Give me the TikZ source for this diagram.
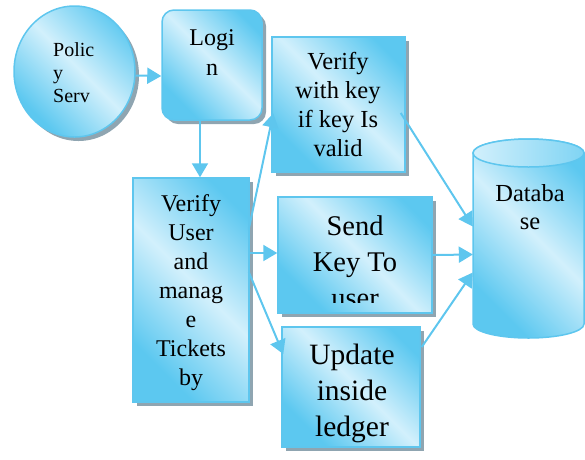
\documentclass[tikz,border=0pt]{standalone}
\usepackage{fontspec}
\newfontfamily\tms{LiberationSerif-Regular.ttf}
\usetikzlibrary{shadows,arrows.meta,calc,shapes.geometric}
\definecolor{bD}{HTML}{5CC8F0}
\definecolor{bL}{HTML}{D2F0FC}
\definecolor{bB}{HTML}{5EC6EE}
\definecolor{sh}{HTML}{8FA5B1}
\pgfdeclarehorizontalshading{diag}{100bp}{color(0bp)=(bD); color(27bp)=(bD); color(52bp)=(bL); color(77bp)=(bD); color(100bp)=(bD)}
\begin{document}
\begin{tikzpicture}[x=1pt,y=-1pt,
 box/.style={draw=bB, line width=1.5pt, shading=diag, shading angle=45,
   drop shadow={shadow xshift=4pt, shadow yshift=-4pt, fill=sh, opacity=1}, inner sep=0pt},
 txt/.style={align=center, inner sep=0pt, anchor=north},
 arr/.style={draw=bB, line width=2pt, -{Triangle[length=14pt,width=16pt]}}]
\useasboundingbox (0,0) rectangle (585,459);

% shapes
\node[box, ellipse, minimum width=121pt, minimum height=131pt] (ps) at (74.5,71.5) {};
\node[box, rounded corners=12pt, minimum width=100pt, minimum height=110pt] (login) at (212,65) {};
\node[box, minimum width=133pt, minimum height=135pt] (vk) at (338.5,104.5) {};
\node[box, minimum width=116pt, minimum height=224pt] (vu) at (191,290) {};
\node[box, minimum width=154pt, minimum height=116pt] (send) at (355,255) {};
\node[box, minimum width=138pt, minimum height=120pt] (upd) at (351,387) {};

% database cylinder
\node[inner sep=0pt, minimum width=111pt, minimum height=199pt] (db) at (528.5,238.5) {};
\shade[shading=diag, shading angle=45, draw=bB, line width=1.5pt]
  (473,153) -- (473,324) arc[start angle=180, end angle=360, x radius=55.5pt, y radius=14pt]
  -- (584,153) arc[start angle=0, end angle=180, x radius=55.5pt, y radius=14pt] -- cycle;
\shade[left color=bL, right color=bD!70!bL, draw=bB, line width=1.5pt]
  (528.5,153) ellipse[x radius=55.5pt, y radius=14pt];

% texts
\node[align=left, inner sep=0pt, anchor=north west, font=\tms\fontsize{20}{23}\selectfont] at (53,42) {Polic\\y\\Serv};
\node[txt, font=\tms\fontsize{24}{30}\selectfont] at (212,29) {Logi\\n};
\node[txt, font=\tms\fontsize{24.5}{29}\selectfont] at (338,52) {Verify\\with key\\if key Is\\valid};
\node[txt, font=\tms\fontsize{24}{29}\selectfont] at (191,194) {Verify\\User\\and\\manag\\e\\Tickets\\by};
\begin{scope}
\clip (278,197) rectangle (432,302);
\node[txt, font=\tms\fontsize{28.5}{36}\selectfont] at (355,216) {Send\\Key To\\user};
\end{scope}
\node[txt, font=\tms\fontsize{29.5}{36}\selectfont] at (352,344) {Update\\inside\\ledger};
\node[txt, font=\tms\fontsize{24.5}{28}\selectfont] at (530,184) {Databa\\se};

% connectors
\draw[arr] ($(ps.east)+(0,4)$) -- ($(login.west)+(0,11)$);
\draw[arr] ($(login.south)+(-12,0)$) -- ($(vu.north)+(9,0)$);
\draw[arr] ($(vu.north east)+(-1,52)$) -- ($(vk.north west)+(2,77)$);
\draw[arr] ($(vu.east)+(0,-37)$) -- ($(send.west)+(0,-2)$);
\draw[arr] ($(vu.east)+(-1,-18)$) -- ($(upd.west)+(2,-33)$);
\draw[arr] ($(vk.east)+(-5,8.5)$) -- ($(db.west)+(0,-12)$);
\draw[arr] (send.east) -- ($(db.west)+(0,16)$);
\draw[arr] ($(upd.east)+(1,-40)$) -- ($(db.west)+(0,34)$);
\end{tikzpicture}
\end{document}
